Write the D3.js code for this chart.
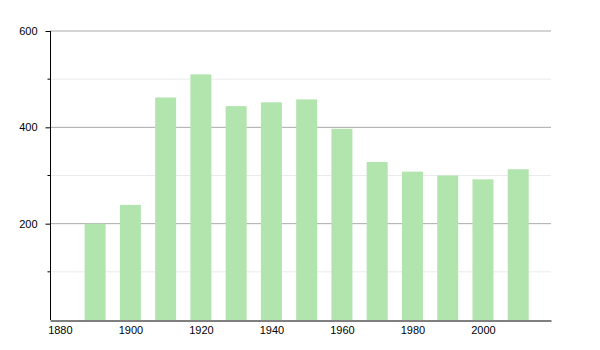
<!DOCTYPE html>
<html lang="en">
  <head>
    <meta charset="utf-8">
    <title>Population by year</title>
    <script type="text/javascript" src="https://cdn.jsdelivr.net/npm/d3@7"></script>
    <style type="text/css">
      body { margin: 0; background: #fff; }
      text { font-family: "Liberation Sans", Arial, sans-serif; }
    </style>
  </head>
  <body>
    <script type="text/javascript">

      // Data
      var years = [1890, 1900, 1910, 1920, 1930, 1940, 1950, 1960, 1970, 1980, 1990, 2000, 2010];
      var values = [200, 239, 462, 510, 444, 452, 458, 397, 328, 308, 300, 292, 313];
      var xTicks = [1880, 1900, 1920, 1940, 1960, 1980, 2000];
      var yMajor = [200, 400, 600];
      var yMinor = [100, 300, 500];

      var w = 600;
      var h = 350;

      var svg = d3.select("body")
        .append("svg")
        .attr("width", w)
        .attr("height", h);

      // Scales
      var xScale = d3.scaleLinear()
        .domain([1877.2, 2019.3])
        .range([50, 551]);

      var yScale = d3.scaleLinear()
        .domain([0, 600])
        .range([320, 31]);

      // soft edges on the bars
      var defs = svg.append("defs");
      defs.append("filter")
        .attr("id", "soft")
        .attr("x", "-20%").attr("y", "-5%")
        .attr("width", "140%").attr("height", "110%")
        .append("feGaussianBlur")
        .attr("stdDeviation", 0.6);

      // Gridlines
      svg.selectAll("line.minor")
        .data(yMinor)
        .enter()
        .append("line")
        .attr("class", "minor")
        .attr("x1", 50)
        .attr("x2", 551)
        .attr("y1", function(d) { return yScale(d); })
        .attr("y2", function(d) { return yScale(d); })
        .attr("stroke", "#ebebeb")
        .attr("stroke-width", 1);

      svg.selectAll("line.major")
        .data(yMajor)
        .enter()
        .append("line")
        .attr("class", "major")
        .attr("x1", 50)
        .attr("x2", 551)
        .attr("y1", function(d) { return yScale(d); })
        .attr("y2", function(d) { return yScale(d); })
        .attr("stroke", "#aaaaaa")
        .attr("stroke-width", 1);

      // Bars
      var barW = 21;
      svg.append("g")
        .attr("filter", "url(#soft)")
        .selectAll("rect")
        .data(values)
        .enter()
        .append("rect")
        .attr("x", function(d, i) { return xScale(years[i]) - barW / 2; })
        .attr("y", function(d) { return yScale(d); })
        .attr("width", barW)
        .attr("height", function(d) { return yScale(0) - yScale(d); })
        .attr("fill", "#b2e5ae");

      // Y axis
      var yAxis = d3.axisLeft(yScale)
        .tickValues(yMajor)
        .tickSize(5)
        .tickPadding(8);

      var gy = svg.append("g")
        .attr("transform", "translate(50.5,0)")
        .call(yAxis);
      gy.select(".domain").attr("stroke", "#000").attr("d", "M0,31V320");
      gy.selectAll("text").attr("font-size", "11px").attr("fill", "#000")
        .attr("font-family", "'Liberation Sans', Arial, sans-serif");

      gy.selectAll("line.mt")
        .data(yMinor)
        .enter()
        .append("line")
        .attr("class", "mt")
        .attr("x1", -3)
        .attr("x2", 0)
        .attr("y1", function(d) { return yScale(d); })
        .attr("y2", function(d) { return yScale(d); })
        .attr("stroke", "#000");

      // X axis
      var xAxis = d3.axisBottom(xScale)
        .tickValues(xTicks)
        .tickFormat(d3.format("d"))
        .tickSize(0)
        .tickPadding(6);

      var gx = svg.append("g")
        .attr("transform", "translate(0,320.5)")
        .call(xAxis);
      gx.select(".domain").attr("stroke", "#000");
      gx.selectAll("text").attr("font-size", "11px").attr("fill", "#000")
        .attr("font-family", "'Liberation Sans', Arial, sans-serif");

    </script>
  </body>
</html>
